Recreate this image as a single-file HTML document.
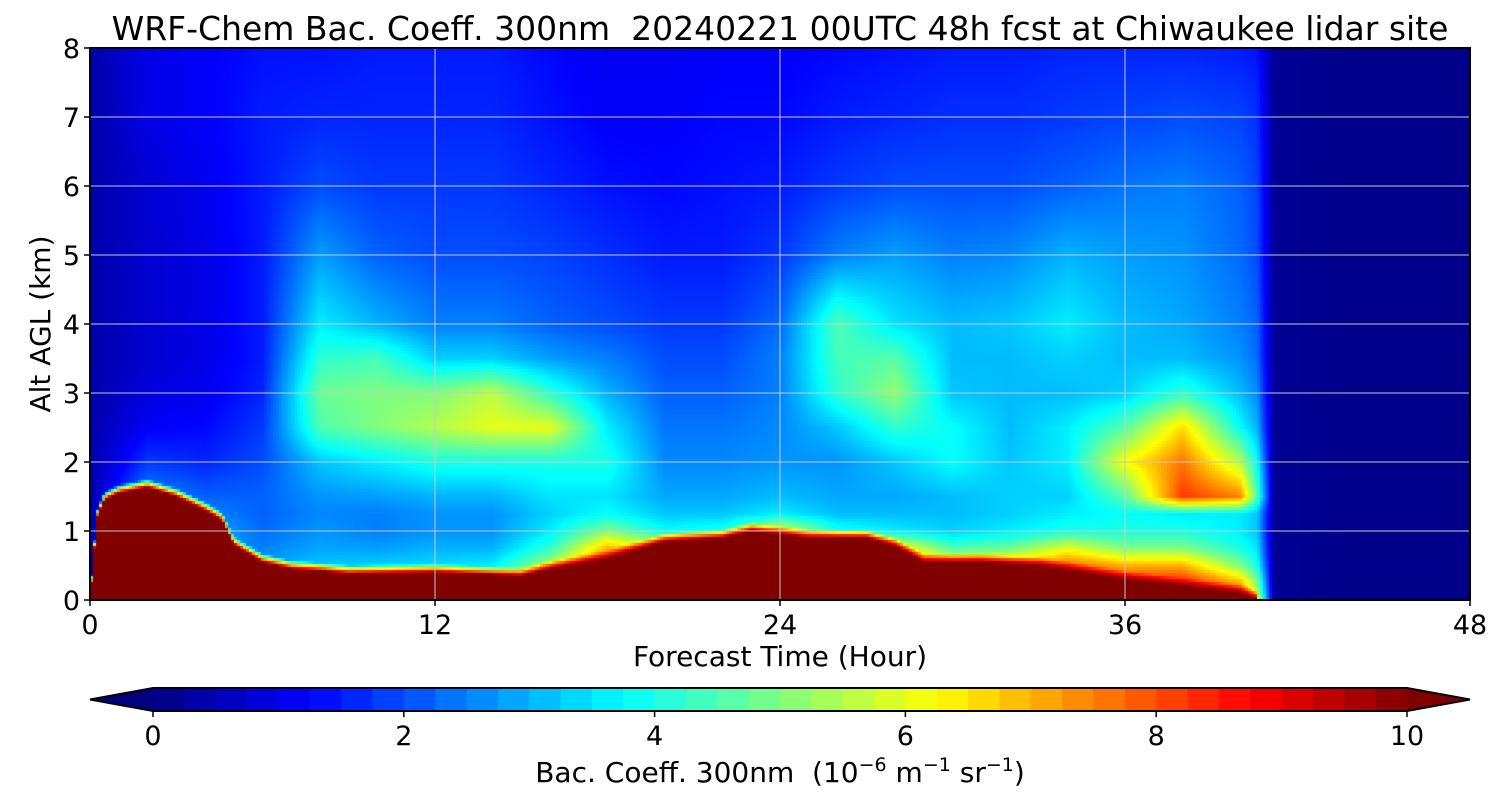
<!DOCTYPE html>
<html><head><meta charset="utf-8">
<style>
body{margin:0;background:#fff;width:1500px;height:800px;overflow:hidden;font-family:"DejaVu Sans","Liberation Sans",sans-serif;}
#wrap{position:relative;width:1500px;height:800px;}
canvas{position:absolute;left:90px;top:48px;}
svg{position:absolute;left:0;top:0;font-family:"DejaVu Sans","Liberation Sans",sans-serif;}
</style></head>
<body>
<div id="wrap">
<canvas id="cv" width="1380" height="552"></canvas>
<svg id="sv" width="1500" height="800"></svg>
</div>
<script>
const times=[0,2,4,6,8,10,12,14,16,18,20,22,24,26,28,30,32,34,36,38,40,40.6,41.2,44,48];
const alts=[0,0.25,0.5,0.75,1,1.25,1.5,2,2.5,3,3.5,4,5,6,7,8];
const bgValues=[
[0.4,0.4,0.4,0.4,0.4,0.4,0.4,0.4,0.4,0.4,0.4,0.4,0.4,0.4,0.4,0.4],
[3,3,3,3,3,3,2.6,1.8,1.2,0.9,0.8,0.8,0.8,0.8,1.0,1.0],
[3,3,3,3,3,2.6,2.2,1.6,1.3,1.1,1.0,1.0,1.0,1.1,1.2,1.2],
[3,3,2.8,2.5,2.3,2.2,2.2,2.0,1.8,1.6,1.5,1.5,1.5,1.5,1.5,1.4],
[3,3,3.2,2.9,2.7,2.6,2.7,3.2,4.5,4.8,4.2,3.6,2.8,2.0,1.6,1.4],
[3,3,3.3,2.8,2.5,2.5,2.8,3.6,5,5,4.4,3.0,2.2,1.8,1.6,1.5],
[3,3,3.4,3,2.7,2.7,3,4,5.5,5,3.3,2.5,2.0,1.8,1.6,1.5],
[3,3,3.6,3,2.7,2.7,3,4,6,5.6,3.3,2.5,2.0,1.8,1.6,1.5],
[5,5,5.5,4.2,3.6,3.3,3.5,4,6,4.2,2.8,2.2,1.9,1.6,1.4,1.3],
[8,8,8,7,5,3.8,3.5,4,3.6,3,2.5,2.0,1.7,1.4,1.2,1.1],
[8,8,8,6,3.8,3.2,2.9,2.6,2.4,2.2,2.0,1.8,1.5,1.3,1.2,1.1],
[8,8,8,6.5,4,3.2,2.9,2.6,2.4,2.2,2.0,1.8,1.5,1.4,1.3,1.2],
[8,8,8,8,6,3.6,3.1,2.7,2.6,2.5,2.5,2.3,1.8,1.5,1.3,1.2],
[8,8,8,7,4,3.1,2.9,2.7,3.2,4.2,4.4,4.5,2.5,1.8,1.5,1.3],
[8,8,8,6.5,3.6,3.1,2.9,3.2,4.2,5.2,4.6,3.5,2.8,2.0,1.6,1.4],
[8,8,6.5,4.5,3.3,3.1,3.1,3.8,3.8,3.2,3.1,3.1,2.5,2.0,1.7,1.5],
[9,8.5,7,4.8,3.6,3.3,3.3,3.2,3.1,3.1,3.1,3.2,2.6,2.0,1.7,1.5],
[9,8.5,7.8,6,4,3.6,3.3,3.6,3.6,3.1,3.3,3.6,3,2.2,1.8,1.6],
[9,8.5,7,5,4,3.8,4.6,6.2,4.6,3.3,3.1,3.1,2.8,2.4,1.9,1.6],
[9,8.5,7,5,4,3.6,8.2,7.6,6.6,4.2,3.1,2.9,2.7,2.5,2.0,1.6],
[9,7,5,4,3.6,3.6,7.5,5.5,3.8,3.1,2.7,2.5,2.3,2.2,1.9,1.5],
[6,5,4,3.5,3.2,3.2,4.5,3.8,3,2.6,2.3,2.2,2.0,1.9,1.7,1.4],
[0.2,0.2,0.2,0.2,0.2,0.2,0.2,0.2,0.2,0.2,0.2,0.2,0.2,0.2,0.2,0.2],
[0.1,0.1,0.1,0.1,0.1,0.1,0.1,0.1,0.1,0.1,0.1,0.1,0.1,0.1,0.1,0.1],
[0.1,0.1,0.1,0.1,0.1,0.1,0.1,0.1,0.1,0.1,0.1,0.1,0.1,0.1,0.1,0.1]];
const layerTimes=[0,0.25,0.5,1,2,3,4,4.6,5,6,7,8,9,12,15,16,18,20,22,23,24,25,27,28,29,31,33,36,38,40,40.7,48];
const layerTops=[0,1.2,1.45,1.55,1.63,1.5,1.3,1.15,0.8,0.55,0.45,0.42,0.38,0.4,0.35,0.45,0.6,0.85,0.9,1.0,0.95,0.9,0.9,0.78,0.55,0.55,0.5,0.3,0.2,0.1,0,0];
const xTicks=[0,12,24,36,48];
const yTicks=[0,1,2,3,4,5,6,7,8];
const cbTicks=[0,2,4,6,8,10];

const X0=90,X1=1470,Y0=600,Y1=48;
const xs=t=>X0+(t/48)*(X1-X0);
const ys=a=>Y0-(a/8)*(Y0-Y1);
function jet(v){const x=Math.max(0,Math.min(1,v/10));const c=f=>Math.round(255*Math.max(0,Math.min(1,f)));
return [c(1.5-Math.abs(4*x-3)),c(1.5-Math.abs(4*x-2)),c(1.5-Math.abs(4*x-1))];}
function idx(arr,v){let i=0;while(i<arr.length-2&&v>arr[i+1])i++;return [i,(v-arr[i])/(arr[i+1]-arr[i])];}
function bgAt(t,a){const [i,ft]=idx(times,t);const [j,fa]=idx(alts,a);
const g=bgValues;return (g[i][j]*(1-fa)+g[i][j+1]*fa)*(1-ft)+(g[i+1][j]*(1-fa)+g[i+1][j+1]*fa)*ft;}
function layerTopAt(t){const [i,f]=idx(layerTimes,t);return layerTops[i]*(1-f)+layerTops[i+1]*f;}
function val(t,a){const h=layerTopAt(t);const b=bgAt(t,a);if(h<=0.01)return b;if(a<h)return 10;const d=a-h;if(d<0.12){const w=d/0.12;return 10*(1-w)+b*w;}return b;}
const cv=document.getElementById('cv').getContext('2d');
const S=3;
for(let px=0;px<1380;px+=S){for(let py=0;py<552;py+=S){const t=(px+S/2)/1380*48;const a=(552-py-S/2)/552*8;
const [r,g,b]=jet(val(t,a));cv.fillStyle=`rgb(${r},${g},${b})`;cv.fillRect(px,py,S,S);}}

const NS='http://www.w3.org/2000/svg';const sv=document.getElementById('sv');
function el(tag,attrs,txt){const e=document.createElementNS(NS,tag);for(const k in attrs)e.setAttribute(k,attrs[k]);if(txt!==undefined)e.textContent=txt;sv.appendChild(e);return e;}
xTicks.forEach(t=>{if(t>0&&t<48){const l=el('line',{x1:xs(t),x2:xs(t),y1:Y1,y2:Y0,stroke:'#c8c8c8','stroke-width':1});

}});
yTicks.forEach(a=>{if(a>0&&a<8){const l=el('line',{x1:X0,x2:X1,y1:ys(a),y2:ys(a),stroke:'#c8c8c8','stroke-width':1});

}});
const fr=el('rect',{x:X0,y:Y1,width:X1-X0,height:Y0-Y1,fill:'none',stroke:'#000','stroke-width':2});


xTicks.forEach(t=>{el('line',{x1:xs(t),x2:xs(t),y1:Y0,y2:Y0+6,stroke:'#000','stroke-width':1.5});
const tx=el('text',{x:xs(t),y:Y0+34,'text-anchor':'middle','font-size':27},t);

});
yTicks.forEach(a=>{el('line',{x1:X0-6,x2:X0,y1:ys(a),y2:ys(a),stroke:'#000','stroke-width':1.5});
const tx=el('text',{x:X0-10,y:ys(a)+10,'text-anchor':'end','font-size':27},a);

});
const ti=el('text',{x:780,y:40,'text-anchor':'middle','font-size':33},'WRF-Chem Bac. Coeff. 300nm  20240221 00UTC 48h fcst at Chiwaukee lidar site');


ti.style.whiteSpace='pre';
const xl=el('text',{x:780,y:666,'text-anchor':'middle','font-size':28},'Forecast Time (Hour)');


const yl=el('text',{x:50,y:324,'text-anchor':'middle','font-size':28,transform:'rotate(-90 50 324)'},'Alt AGL (km)');


const C0=153,C1=1407,CT=688,CB=711;const cx=v=>C0+(v/10)*(C1-C0);
for(let v=0;v<10;v+=0.25){const [r,g,b]=jet(v+0.125);const rc=el('rect',{x:cx(v),y:CT,width:cx(0.25)-cx(0)+0.6,height:CB-CT,fill:`rgb(${r},${g},${b})`});

}
const lt=el('polygon',{points:`${C0},${CT} 90,${(CT+CB)/2} ${C0},${CB}`,fill:'#00007f'});


const rt=el('polygon',{points:`${C1},${CT} 1470,${(CT+CB)/2} ${C1},${CB}`,fill:'#7f0000'});


const cf=el('polygon',{points:`${C0},${CT} ${C1},${CT} 1470,${(CT+CB)/2} ${C1},${CB} ${C0},${CB} 90,${(CT+CB)/2}`,fill:'none',stroke:'#000','stroke-width':2});


cbTicks.forEach(v=>{el('line',{x1:cx(v),x2:cx(v),y1:CB,y2:CB+6,stroke:'#000','stroke-width':1.5});
const tx=el('text',{x:cx(v),y:CB+34,'text-anchor':'middle','font-size':27},v);

});
const cl=el('text',{x:780,y:782,'text-anchor':'middle','font-size':28});


cl.innerHTML='Bac. Coeff. 300nm  (10<tspan dy="-11" font-size="19">−6</tspan><tspan dy="11"> m</tspan><tspan dy="-11" font-size="19">−1</tspan><tspan dy="11"> sr</tspan><tspan dy="-11" font-size="19">−1</tspan><tspan dy="11">)</tspan>';
cl.style.whiteSpace='pre';
</script>
</body></html>
